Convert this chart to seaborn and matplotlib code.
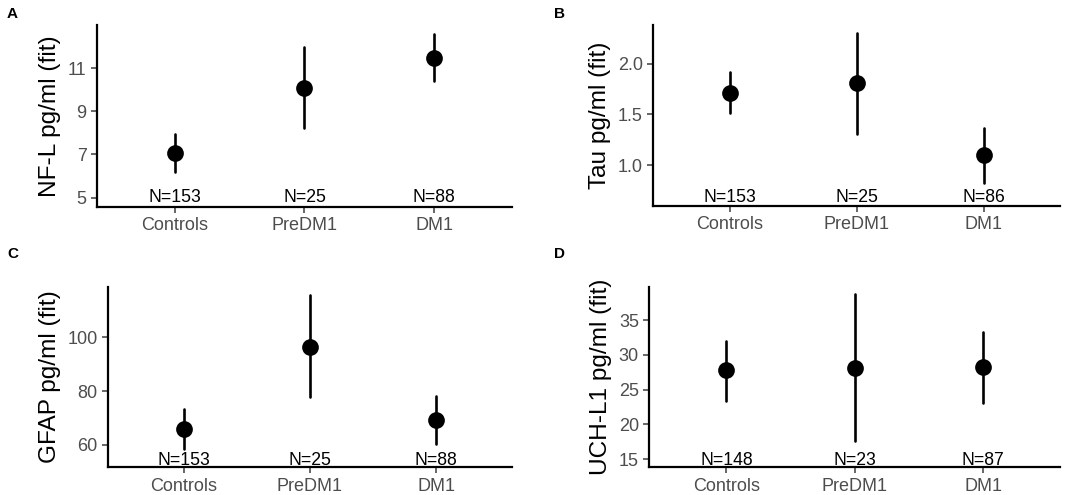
import pandas as pd
import numpy as np
import matplotlib
matplotlib.use("Agg")
import matplotlib.pyplot as plt
import seaborn as sns

# groups and fitted values (fit, lower, upper)
groups = ["Controls", "PreDM1", "DM1"]

nfl_fit = [7.05, 10.08, 11.49]
nfl_lo = [6.19, 8.22, 10.41]
nfl_hi = [7.93, 11.99, 12.60]
nfl_n = ["N=153", "N=25", "N=88"]

tau_fit = [1.71, 1.81, 1.10]
tau_lo = [1.51, 1.31, 0.83]
tau_hi = [1.92, 2.30, 1.37]
tau_n = ["N=153", "N=25", "N=86"]

gfap_fit = [66.0, 96.3, 69.3]
gfap_lo = [58.6, 77.7, 60.5]
gfap_hi = [73.3, 115.7, 78.2]
gfap_n = ["N=153", "N=25", "N=88"]

uch_fit = [27.8, 28.1, 28.2]
uch_lo = [23.4, 17.6, 23.1]
uch_hi = [31.96, 38.7, 33.35]
uch_n = ["N=148", "N=23", "N=87"]

sns.set_theme(style="ticks")
plt.rcParams['font.family'] = ['Liberation Sans', 'DejaVu Sans']

fig = plt.figure(figsize=(10.84, 4.95), dpi=100)

panels = [
    # letter, ylabel, fit, lo, hi, n labels, n label y, yticks, ylim, axes rect, letter pos
    ("A", "NF-L pg/ml (fit)", nfl_fit, nfl_lo, nfl_hi, nfl_n, 5.0,
     [5, 7, 9, 11], (4.58, 13.0), [0.0895, 0.5824, 0.3828, 0.367], (0.0065, 0.972)),
    ("B", "Tau pg/ml (fit)", tau_fit, tau_lo, tau_hi, tau_n, 0.68,
     [1.0, 1.5, 2.0], (0.60, 2.38), [0.6027, 0.5838, 0.3752, 0.3657], (0.511, 0.972)),
    ("C", "GFAP pg/ml (fit)", gfap_fit, gfap_lo, gfap_hi, gfap_n, 54.4,
     [60, 80, 100], (51.7, 118.7), [0.0999, 0.056, 0.3721, 0.3648], (0.0065, 0.487)),
    ("D", "UCH-L1 pg/ml (fit)", uch_fit, uch_lo, uch_hi, uch_n, 14.8,
     [15, 20, 25, 30, 35], (13.85, 39.8), [0.599, 0.056, 0.3789, 0.3648], (0.511, 0.487)),
]

for letter, ylab, fit, lo, hi, nlab, ny, yt, yl, rect, lpos in panels:
    ax = fig.add_axes(rect)
    # long form: lower / fit / upper per group -> median = fit, 100% interval = lower..upper
    df = pd.DataFrame({
        "group": groups * 3,
        "value": list(lo) + list(fit) + list(hi),
    })
    sns.pointplot(data=df, x="group", y="value", order=groups,
                  estimator="median", errorbar=("pi", 100),
                  linestyle="none", color="black", markersize=10,
                  err_kws={"linewidth": 1.9}, ax=ax)
    for i, t in enumerate(nlab):
        ax.text(i, ny, t, ha="center", va="center", fontsize=12.7, color="black")
    ax.set_xlim(-0.6, 2.6)
    ax.set_ylim(*yl)
    ax.set_yticks(yt)
    ax.set_xlabel("")
    ax.set_ylabel(ylab, fontsize=17.6, color="black", labelpad=5)
    ax.tick_params(axis="both", labelsize=13, colors="#4d4d4d", length=4, width=1.2)
    sns.despine(ax=ax)
    for s in ["left", "bottom"]:
        ax.spines[s].set_linewidth(1.6)
        ax.spines[s].set_color("black")
    fig.text(lpos[0], lpos[1], letter, fontsize=11, fontweight="bold",
             color="black", ha="left", va="center")

fig.savefig("out.png", dpi=100)
